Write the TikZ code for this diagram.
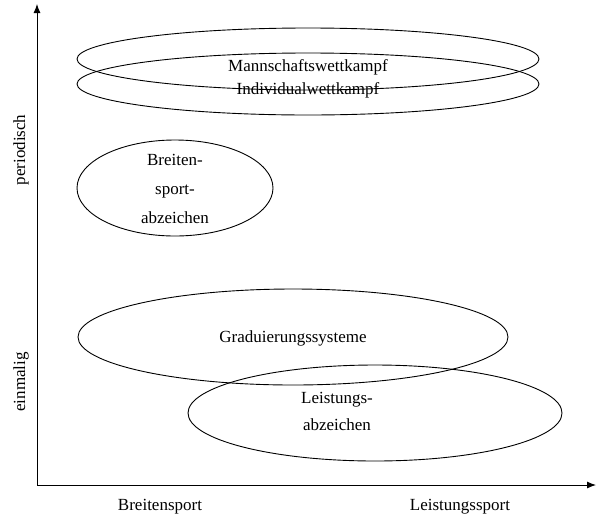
\documentclass[tikz,border=0pt]{standalone}
\usepackage{fontspec}
\setmainfont{Liberation Serif}
\usetikzlibrary{arrows.meta}
\begin{document}
\begin{tikzpicture}[x=1pt,y=-1pt,
  ell/.style={draw=black,line width=0.9pt},
  lab/.style={font=\fontsize{17}{20}\selectfont,align=center,inner sep=0pt}]
\useasboundingbox (0,0) rectangle (602,528);
\coordinate (o) at (37,485);
\coordinate (ytop) at (37,4);
\coordinate (xend) at (596,485);
\draw[line width=0.9pt,-{Latex[length=9pt,width=7pt]}] (o) -- (ytop);
\draw[line width=0.9pt,-{Latex[length=9pt,width=7pt]}] (o) -- (xend);
\draw[ell] (308,59) ellipse [x radius=231, y radius=31];
\draw[ell] (308,84) ellipse [x radius=231, y radius=31];
\draw[ell] (175,188) ellipse [x radius=98, y radius=48];
\draw[ell] (293,337) ellipse [x radius=215, y radius=48];
\draw[ell] (375,413) ellipse [x radius=187, y radius=48];
\node[lab] (m) at (308,67) {Mannschaftswettkampf};
\node[lab] (i) at (308,90) {Individualwettkampf};
\node[lab] (b) at (175,189) {Breiten-\\[9pt]sport-\\[9pt]abzeichen};
\node[lab] (g) at (293,338) {Graduierungssysteme};
\node[lab] (l) at (337,411) {Leistungs-\\[7pt]abzeichen};
\node[lab] (bs) at (160,507) {Breitensport};
\node[lab] (ls) at (460,507) {Leistungssport};
\node[lab,rotate=90] (p) at (21,150) {periodisch};
\node[lab,rotate=90] (e) at (21,382) {einmalig};
\end{tikzpicture}
\end{document}
